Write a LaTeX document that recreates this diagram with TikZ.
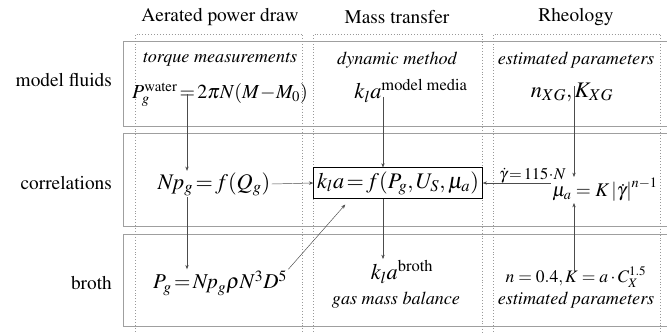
\documentclass[tikz,border=0pt]{standalone}
\usepackage[T1]{fontenc}
\usepackage{amsmath}
\usepackage{mathptmx}
\usetikzlibrary{arrows.meta,positioning}

\begin{document}
\begin{tikzpicture}[x=0.3mm, y=-0.3mm,
    head/.style={font=\fontsize{16.5}{19}\selectfont},
    rowlab/.style={font=\fontsize{16.5}{19}\selectfont, anchor=east},
    method/.style={font=\fontsize{15.5}{18}\selectfont\itshape},
    eq/.style={font=\fontsize{19}{22}\selectfont, inner sep=1pt},
    eqsmall/.style={font=\fontsize{14}{16}\selectfont, inner sep=1pt},
    rowframe/.style={draw=gray!75, line width=0.8pt},
    colframe/.style={draw=gray!80, dotted, line width=0.5pt},
    arr/.style={-{Stealth[length=1.3mm, width=1mm]}, draw=black!70, line width=0.4pt}
  ]
    \useasboundingbox (0,0) rectangle (667,333);
    \clip (0,0) rectangle (667,333);

    % row and column frames
    \draw[rowframe] (675,41) -- (123,41) -- (123,126) -- (675,126);
    \draw[rowframe] (675,133) -- (123,133) -- (123,226) -- (675,226);
    \draw[rowframe] (675,234) -- (123,234) -- (123,326) -- (675,326);
    \draw[colframe] (135,340) -- (135,34) -- (302,34) -- (302,340);
    \draw[colframe] (313,340) -- (313,34) -- (482,34) -- (482,340);
    \draw[colframe] (493,340) -- (493,34) -- (660,34) -- (660,340);

    \node[head] (hpower) at (220,17) {Aerated power draw};
    \node[head] (hmass) at (397,17) {Mass transfer};
    \node[head] (hrheo) at (576,17) {Rheology};

    \node[rowlab] (rmodel) at (116,80) {model fluids};
    \node[rowlab] (rcorr) at (116,183) {correlations};
    \node[rowlab] (rbroth) at (116,283) {broth};

    % model fluids
    \node[method] (torque) at (220,60) {torque measurements};
    \node[eq, font=\fontsize{17}{20}\selectfont] (pwater) at (220,95)
      {$P_g^{\text{water}}\!=\!2\pi N\!\left(M\!-\!M_0\right)$};
    \node[method] (dynamic) at (397,60) {dynamic method};
    \node[eq] (klamodel) at (411,91) {$k_l a^{\text{model media}}$};
    \node[method] (estmodel) at (576,60) {estimated parameters};
    \node[eq] (nxg) at (572,92) {$n_{XG}, K_{XG}$};

    % correlations
    \node[eq] (npg) at (214,184) {$N\!p_g\!=\!f\!\left(Q_g\right)$};
    \node[eq, draw, line width=0.5pt, inner sep=3pt] (klabox) at (398,183)
      {$k_l a\!=\!f\!\left(P_g,U_S,\mu_a\right)$};
    \node[eq, font=\fontsize{16.5}{19}\selectfont] (mua) at (605,190)
      {$\mu_a = K\left|\dot\gamma\right|^{n-1}$};

    % broth
    \node[eq, font=\fontsize{18}{21}\selectfont] (pgbroth) at (220,283)
      {$P_g\!=\!N\!p_g\rho N^3 D^5$};
    \node[eq] (klabroth) at (402,272) {$k_l a^{\text{broth}}$};
    \node[method] (gasbal) at (396,300) {gas mass balance};
    \node[eq, font=\fontsize{15}{18}\selectfont] (nK) at (576,277)
      {$n = 0.4, K = a\cdot C_X^{1.5}$};
    \node[method] (estbroth) at (576,300) {estimated parameters};

    % connectors
    \coordinate (lanepower) at (187,0);
    \coordinate (lanemass) at (383,0);
    \coordinate (lanerheo) at (574,0);
    \draw[arr] ([yshift=12]pwater.south -| lanepower) -- (npg.north -| lanepower);
    \draw[arr] (npg.south -| lanepower) -- (pgbroth.north -| lanepower);
    \draw[arr] (npg.east) -- (klabox.west);
    \draw[arr] ([yshift=6]klamodel.south -| lanemass) -- (klabox.north -| lanemass);
    \draw[arr] (klabox.south -| lanemass) -- (klabroth.north -| lanemass);
    \draw[arr] (pgbroth.north east) -- ([shift={(32,6)}]klabox.south west);
    \draw[arr] ([yshift=14]nxg.south -| lanerheo) -- (mua.north -| lanerheo);
    \draw[arr] ([yshift=-6]nK.north -| lanerheo) -- (mua.south -| lanerheo);
    \draw[arr] (mua.west |- klabox.east) -- node[eqsmall, above, pos=0.27, yshift=-1pt]
      {$\dot\gamma\!=\!115\!\cdot\! N$} (klabox.east);
\end{tikzpicture}
\end{document}
